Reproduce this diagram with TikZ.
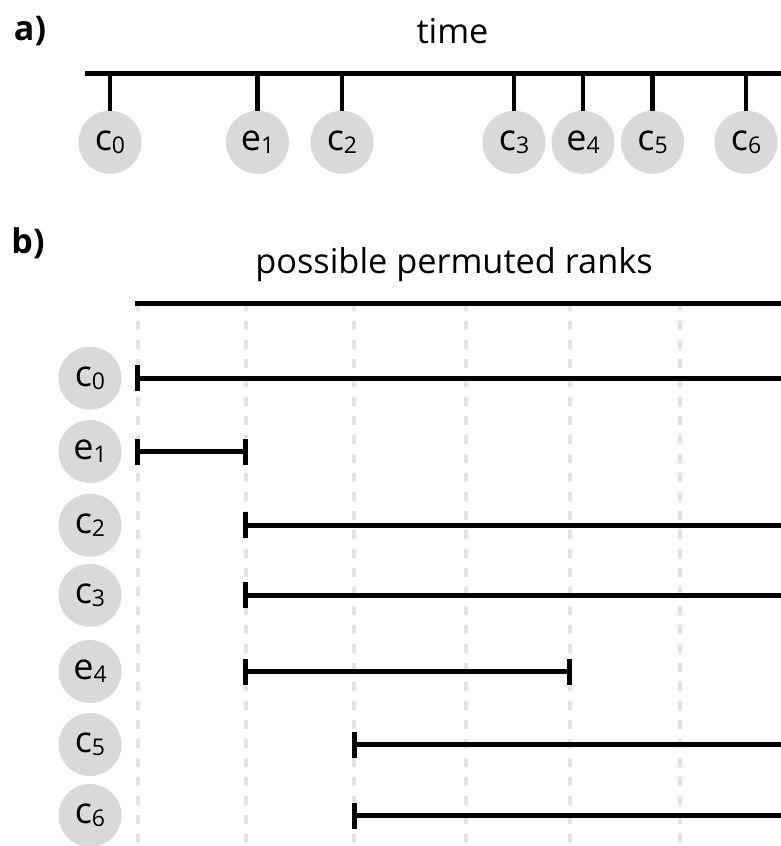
\documentclass[tikz,border=0pt]{standalone}
\usepackage{fontspec}
\setmainfont{Open Sans}
\usetikzlibrary{arrows.meta}
\definecolor{circfill}{HTML}{D9D9D9}
\definecolor{gridgray}{HTML}{E3E3E3}
\newcommand{\lbl}[2]{#1\raisebox{-3pt}{\fontsize{23}{23}\selectfont #2}}
\tikzset{
  ev/.style={circle, fill=circfill, minimum size=63pt, inner sep=0pt, font=\fontsize{36}{42}\selectfont},
  axisline/.style={line width=4.5pt},
  ticksty/.style={line width=4.5pt},
  rankbar/.style={line width=5pt},
  gridline/.style={gridgray, line width=4pt, dash pattern=on 9pt off 10pt},
  title/.style={font=\fontsize{34.3}{40}\selectfont, anchor=base},
  panel/.style={font=\fontsize{34}{40}\selectfont\bfseries, anchor=base},
}
\begin{document}
\begin{tikzpicture}[x=1pt,y=-1pt]
\useasboundingbox[fill=white] (0,0) rectangle (781,846);

% ---------------- panel a ----------------
\node[panel] (pa) at (30,40) {a)};
\node[title] (ttime) at (452.5,43) {time};
\coordinate (tl) at (85,73.3);
\coordinate (tr) at (781,73.3);
\draw[axisline] (tl) -- (tr);

\foreach \nm/\x/\a/\b in {ac0/110/c/0, ae1/257.5/e/1, ac2/342/c/2, ac3/514/c/3, ae4/583/e/4, ac5/652.5/c/5, ac6/746/c/6}{
  \node[ev] (\nm) at (\x,142.3) {\lbl{\a}{\b}};
  \draw[ticksty] (\nm.north |- tl) -- (\nm.north);
}

% ---------------- panel b ----------------
\node[panel] (pb) at (28,253) {b)};
\node[title] (tranks) at (454,273) {possible permuted ranks};
\coordinate (bl) at (135,303.3);
\coordinate (br) at (781,303.3);

% rank grid
\foreach \i/\x in {0/137.7,1/245.7,2/354.3,3/465.7,4/569.7,5/680.3}{
  \coordinate (k\i) at (\x,302.3);
  \coordinate (kb\i) at (\x,846);
  \draw[gridline] (k\i) -- (kb\i);
}
\draw[axisline] (bl) -- (br);

\foreach \nm/\y/\a/\b in {bc0/378.2/c/0, be1/451.5/e/1, bc2/525.2/c/2, bc3/595.2/c/3, be4/671.5/e/4, bc5/744.5/c/5, bc6/815.5/c/6}{
  \node[ev] (\nm) at (90,\y) {\lbl{\a}{\b}};
}

\tikzset{tipL/.style={{Bar[width=26pt,line width=5pt]}-}, tipLR/.style={{Bar[width=26pt,line width=5pt]}-{Bar[width=26pt,line width=5pt]}}}
\draw[rankbar,tipL]  ([xshift=-2.5pt]k0 |- bc0) -- (br |- bc0);
\draw[rankbar,tipLR] ([xshift=-2.5pt]k0 |- be1) -- ([xshift=2.5pt]k1 |- be1);
\draw[rankbar,tipL]  ([xshift=-2.5pt]k1 |- bc2) -- (br |- bc2);
\draw[rankbar,tipL]  ([xshift=-2.5pt]k1 |- bc3) -- (br |- bc3);
\draw[rankbar,tipLR] ([xshift=-2.5pt]k1 |- be4) -- ([xshift=2.5pt]k4 |- be4);
\draw[rankbar,tipL]  ([xshift=-2.5pt]k2 |- bc5) -- (br |- bc5);
\draw[rankbar,tipL]  ([xshift=-2.5pt]k2 |- bc6) -- (br |- bc6);
\end{tikzpicture}
\end{document}
